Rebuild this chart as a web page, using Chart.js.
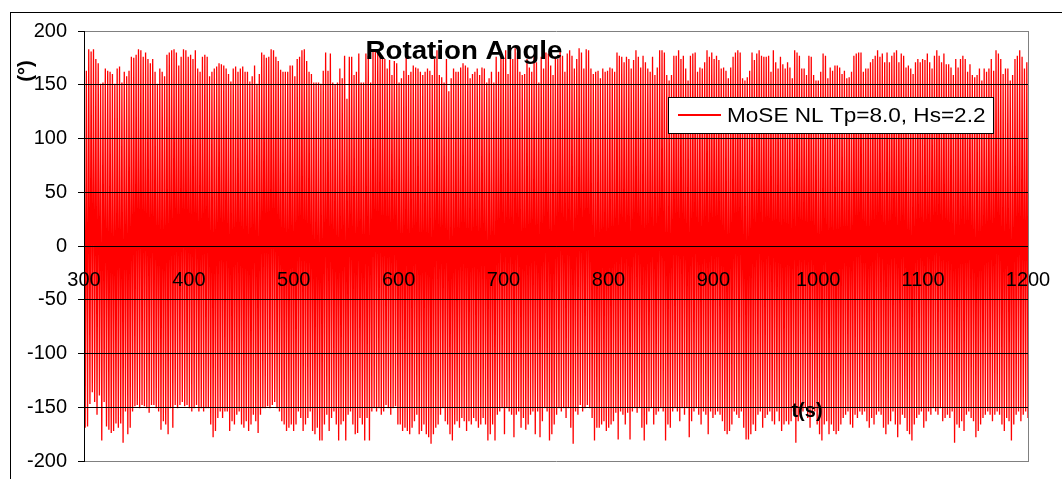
<!DOCTYPE html>
<html>
<head>
<meta charset="utf-8">
<script src="https://cdn.jsdelivr.net/npm/chart.js@4.4.1/dist/chart.umd.min.js"></script>
<style>
  body { margin: 0; background: #fff; }
</style>
</head>
<body>
<canvas id="graficoRotacao" width="1062" height="479"></canvas>
<script>
var tStart = 300;
var tEnd = 1200;
var xTickValues = [300, 400, 500, 600, 700, 800, 900, 1000, 1100, 1200];
var yTickValues = [-200, -150, -100, -50, 0, 50, 100, 150, 200];
var seriesLabel = "MoSE NL Tp=8.0, Hs=2.2";

// crests of the rotation signal, read left to right
var peaks = [
  165,163,183,181,183,174,170,151,152,165,163,162,160,151,165,167,152,162,158,163,
  176,175,178,183,182,176,180,174,170,174,162,151,165,162,158,178,180,182,183,180,
  168,176,183,182,176,178,174,182,165,162,
  176,178,176,158,162,165,167,170,169,168,165,160,153,165,167,162,165,167,162,162,
  153,158,168,151,160,180,178,175,176,183,182,176,172,164,162,162,162,168,168,158,
  174,176,182,183,172,162,160,152,152,152,151,163,
  180,163,179,152,150,152,165,156,177,137,176,176,159,162,179,152,152,179,177,152,
  182,182,180,179,177,174,165,173,159,172,170,152,156,163,177,159,162,168,166,165,
  162,159,162,165,163,159,174,182,159,157,152,
  174,144,156,165,162,162,166,170,168,166,156,160,162,165,159,166,165,152,156,162,
  152,176,162,180,174,182,160,176,174,184,180,162,159,160,174,166,162,177,171,152,
  176,165,180,179,168,159,176,174,182,177,162,
  179,182,177,165,174,184,180,165,183,182,165,160,162,163,156,165,162,163,166,165,
  162,180,177,176,171,176,174,165,173,182,176,166,177,171,165,162,176,159,166,182,
  182,180,159,154,159,177,177,182,174,177,165,
  154,177,179,180,162,166,165,171,182,176,180,174,177,173,165,166,163,156,166,176,
  180,182,180,156,154,157,163,180,173,179,182,177,176,176,177,162,182,171,165,176,
  169,165,171,166,156,182,180,177,165,165,
  159,177,176,159,154,154,162,179,177,156,166,163,168,168,166,160,163,156,157,162,
  177,179,180,180,162,165,165,171,174,177,182,176,179,171,180,171,177,180,182,171,
  179,177,166,168,165,160,171,174,171,174,
  173,179,171,165,177,182,177,171,179,169,169,166,159,174,166,174,177,174,162,169,
  159,157,159,165,154,165,162,165,174,163,182,179,174,160,165,165,154,159,174,177,
  182,176,165,171
];

// troughs of the rotation signal, read left to right
var troughs = [
  -169,-168,-147,-136,-145,-157,-139,-181,-145,-168,-171,-174,-172,-165,-169,-165,-183,-154,-175,-169,
  -154,-149,-148,-151,-148,-149,-151,-155,-148,-148,-151,-154,-171,-163,-166,-175,-151,-169,-148,-151,
  -148,-145,-149,-148,-151,-154,-151,-148,-154,-151,
  -154,-151,-151,-166,-178,-172,-160,-154,-160,-154,-154,-172,-163,-166,-157,-154,-166,-169,-163,-172,
  -166,-157,-163,-174,-157,-151,-151,-149,-151,-148,-145,-151,-154,-163,-166,-172,-169,-166,-172,-166,
  -154,-160,-172,-166,-160,-154,-172,-175,-169,-181,-181,-166,
  -157,-172,-160,-154,-166,-181,-166,-163,-181,-157,-154,-166,-175,-174,-160,-166,-181,-160,-181,-154,
  -151,-154,-151,-157,-154,-148,-151,-157,-151,-149,-166,-166,-172,-169,-172,-175,-169,-163,-157,-175,
  -172,-166,-175,-178,-184,-175,-169,-166,-157,-151,-163,
  -166,-175,-181,-166,-163,-169,-160,-163,-172,-163,-166,-160,-163,-169,-166,-160,-166,-181,-175,-166,
  -181,-157,-154,-151,-175,-151,-154,-157,-178,-157,-154,-169,-160,-171,-166,-157,-154,-175,-154,-178,
  -163,-151,-154,-181,-175,-166,-157,-151,-154,-151,-160,
  -151,-169,-184,-154,-157,-148,-154,-151,-148,-151,-160,-181,-169,-169,-166,-163,-172,-169,-166,-163,
  -155,-180,-154,-157,-166,-155,-180,-154,-151,-155,-151,-169,-181,-166,-154,-151,-166,-157,-154,-151,
  -154,-181,-166,-169,-154,-151,-154,-163,-151,-157,-151,
  -178,-163,-154,-151,-157,-166,-154,-157,-175,-154,-160,-157,-154,-157,-163,-172,-175,-172,-166,-154,
  -157,-160,-154,-169,-180,-180,-175,-166,-172,-157,-154,-169,-160,-157,-154,-163,-166,-154,-163,-172,
  -166,-163,-166,-163,-154,-183,-163,-157,-154,-151,
  -160,-169,-157,-154,-166,-175,-181,-166,-163,-175,-166,-172,-175,-172,-166,-160,-157,-154,-166,-169,
  -157,-160,-154,-157,-154,-163,-169,-160,-166,-157,-154,-157,-169,-175,-166,-163,-154,-166,-178,-166,
  -157,-160,-172,-175,-181,-166,-160,-157,-154,-169,
  -163,-154,-157,-151,-154,-157,-151,-163,-160,-157,-160,-154,-183,-166,-169,-163,-172,-157,-154,-160,
  -163,-178,-172,-166,-160,-157,-154,-157,-163,-157,-154,-157,-166,-172,-160,-163,-181,-166,-157,-154,
  -163,-157,-154,-160
];

// samples are evenly spaced in time, crest then trough
var pontos = [];
var nAmostras = peaks.length * 2;
var passo = (tEnd - tStart) / (nAmostras - 1);
for (var i = 0; i < peaks.length; i++) {
    pontos.push({ x: tStart + (2 * i) * passo, y: peaks[i] });
    pontos.push({ x: tStart + (2 * i + 1) * passo, y: troughs[i] });
}

// text in the original is a little wider than Arial, stretch it a bit
function textoLargo(c, txt, x, y, esticar) {
    c.save();
    c.translate(x, y);
    c.scale(esticar, 1);
    c.fillText(txt, 0, 0);
    c.restore();
}

var decoracao = {
    id: "decoracao",
    beforeDraw: function (chart) {
        var c = chart.ctx;
        c.save();
        c.fillStyle = "#ffffff";
        c.fillRect(0, 0, chart.width, chart.height);
        c.strokeStyle = "#000000";
        c.lineWidth = 1;
        c.strokeRect(10.5, 12.5, chart.width, chart.height);
        c.restore();
    },
    afterDraw: function (chart) {
        var c = chart.ctx;
        var a = chart.chartArea;
        c.save();

        // right edge of the plot frame
        c.strokeStyle = "#808080";
        c.lineWidth = 1;
        c.beginPath();
        c.moveTo(Math.round(a.right) + 0.5, a.top);
        c.lineTo(Math.round(a.right) + 0.5, a.bottom + 1);
        c.stroke();

        // legend box
        c.fillStyle = "#ffffff";
        c.fillRect(668, 97, 325, 36);
        c.strokeStyle = "#000000";
        c.strokeRect(668.5, 97.5, 325, 36);
        c.strokeStyle = chart.data.datasets[0].borderColor;
        c.lineWidth = 2;
        c.beginPath();
        c.moveTo(678, 115);
        c.lineTo(721, 115);
        c.stroke();
        c.fillStyle = "#000000";
        c.font = "21px 'Liberation Sans', Arial, sans-serif";
        c.textAlign = "left";
        c.textBaseline = "middle";
        textoLargo(c, chart.data.datasets[0].label, 727, 116, 1.075);

        // titles
        c.font = "bold 26px 'Liberation Sans', Arial, sans-serif";
        c.textAlign = "center";
        c.textBaseline = "alphabetic";
        textoLargo(c, "Rotation Angle", 464, 59, 1.065);

        c.font = "bold 20px 'Liberation Sans', Arial, sans-serif";
        c.fillText("t(s)", 807, 417);

        c.translate(26, 71);
        c.rotate(-Math.PI / 2);
        c.textBaseline = "middle";
        c.fillText("(\u00b0)", 0, 0);
        c.restore();
    }
};

document.addEventListener("DOMContentLoaded", function () {
    var ctx = document.getElementById("graficoRotacao");
    if (!ctx) {
        console.error("canvas not found");
        return;
    }
    Chart.defaults.font.family = "'Liberation Sans', Arial, sans-serif";
    Chart.defaults.color = "#000000";

    new Chart(ctx.getContext("2d"), {
        type: "line",
        data: {
            datasets: [{
                label: seriesLabel,
                data: pontos,
                borderColor: "#ff0000",
                borderWidth: 1.3,
                pointRadius: 0,
                tension: 0,
                fill: false
            }]
        },
        options: {
            responsive: false,
            animation: false,
            events: [],
            layout: {
                padding: { top: 31, right: 34, bottom: 18, left: 0 }
            },
            plugins: {
                legend: { display: false },
                tooltip: { enabled: false }
            },
            scales: {
                x: {
                    type: "linear",
                    min: tStart,
                    max: tEnd,
                    position: { y: 0 },
                    afterBuildTicks: function (s) {
                        s.ticks = xTickValues.map(function (v) { return { value: v }; });
                    },
                    afterFit: function (s) {
                        s.paddingLeft = 0;
                        s.paddingRight = 0;
                    },
                    grid: { display: false, drawTicks: false },
                    border: { display: true, color: "#000000", width: 1, z: 1 },
                    ticks: {
                        z: 2,
                        padding: 22,
                        autoSkip: false,
                        maxRotation: 0,
                        color: "#000000",
                        font: { size: 20 },
                        callback: function (v) { return String(v); }
                    }
                },
                y: {
                    min: -200,
                    max: 200,
                    afterBuildTicks: function (s) {
                        s.ticks = yTickValues.map(function (v) { return { value: v }; });
                    },
                    afterFit: function (s) {
                        s.width = 84;
                        s.paddingTop = 0;
                        s.paddingBottom = 0;
                    },
                    grid: {
                        z: 1,
                        color: function (c) {
                            return c.tick && Math.abs(c.tick.value) === 200 ? "#808080" : "#000000";
                        },
                        lineWidth: 1,
                        tickLength: 6,
                        tickColor: "#000000"
                    },
                    border: { color: "#000000", width: 1, z: 1 },
                    ticks: {
                        z: 2,
                        padding: 11,
                        autoSkip: false,
                        color: "#000000",
                        font: { size: 20 },
                        callback: function (v) { return String(v); }
                    }
                }
            }
        },
        plugins: [decoracao]
    });
});
</script>
</body>
</html>
